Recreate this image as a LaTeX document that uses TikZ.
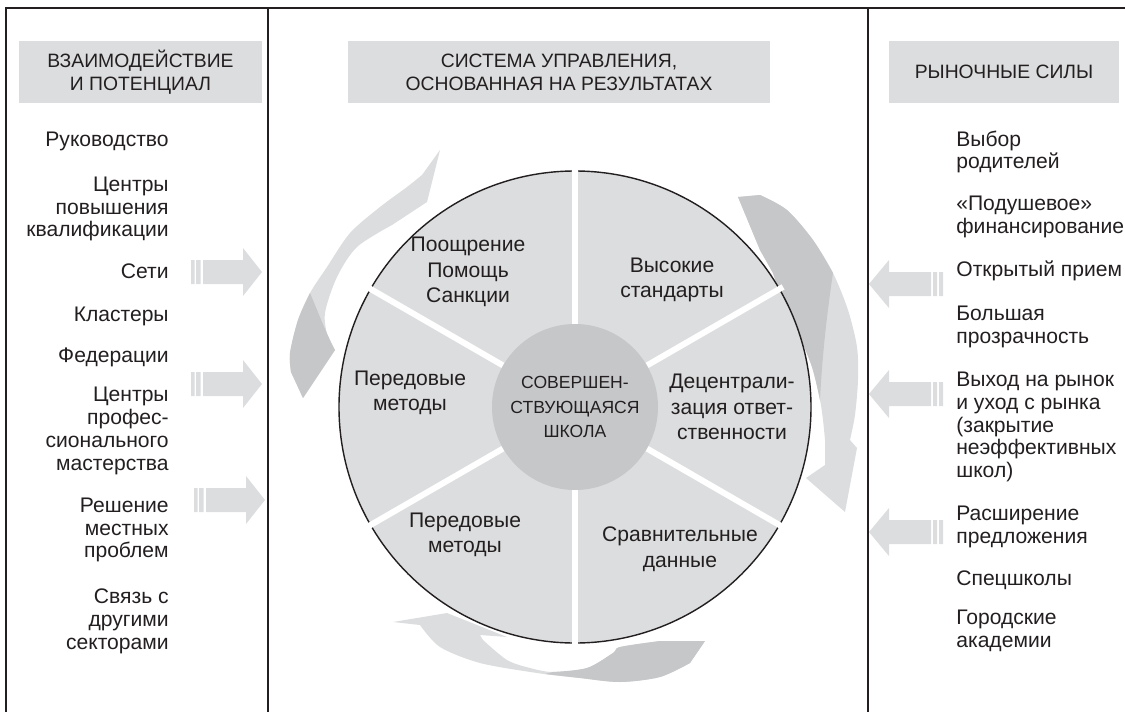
\documentclass[tikz,border=0pt]{standalone}
\usepackage{fontspec}
\setmainfont{Liberation Sans}
\definecolor{ink}{HTML}{231F20}
\definecolor{pale}{HTML}{DCDDDE}
\definecolor{mid}{HTML}{C6C7C9}

\begin{document}
\begin{tikzpicture}[x=0.2mm,y=-0.2mm,
  panel/.style={fill=pale,minimum height=12.4mm,inner sep=0,align=center,text=ink,font=\fontsize{11}{13}\selectfont},
  lft/.style={anchor=east,align=right,inner sep=0,text=ink,font=\fontsize{12}{13}\selectfont},
  rgt/.style={anchor=west,align=left,inner sep=0,text=ink,font=\fontsize{12}{13}\selectfont},
  sector/.style={align=center,inner sep=0,text=ink,font=\fontsize{12}{14.5}\selectfont},
  gap/.style={white,line width=3.4pt,shorten >=-2pt}]
\useasboundingbox (0,0) rectangle (1125,712);

% frame and column rules
\draw[ink,line width=1.1pt] (6,712) -- (6,8) -- (1125,8);
\draw[ink,line width=1.1pt] (268,8) -- (268,712);
\draw[ink,line width=1.1pt] (868,8) -- (868,712);

% headings
\node[panel,minimum width=48.6mm] (h1) at (140.5,72) {ВЗАИМОДЕЙСТВИЕ\\И ПОТЕНЦИАЛ};
\node[panel,minimum width=84.4mm] (h2) at (559,72) {СИСТЕМА УПРАВЛЕНИЯ,\\ОСНОВАННАЯ НА РЕЗУЛЬТАТАХ};
\node[panel,minimum width=46mm] (h3) at (1004,72) {РЫНОЧНЫЕ СИЛЫ};

% left column
\node[lft] (l1) at (169,141) {Руководство};
\node[lft] (l2) at (169,209) {Центры\\повышения\\квалификации};
\node[lft] (l3) at (169,271) {Сети};
\node[lft] (l4) at (169,316) {Кластеры};
\node[lft] (l5) at (169,357) {Федерации};
\node[lft] (l6) at (169,431) {Центры\\профес-\\сионального\\мастерства};
\node[lft] (l7) at (169,530) {Решение\\местных\\проблем};
\node[lft] (l8) at (169,621) {Связь с\\другими\\секторами};

% right column
\node[rgt] (r1) at (956,152) {Выбор\\родителей};
\node[rgt] (r2) at (956,217) {«Подушевое»\\финансирование};
\node[rgt] (r3) at (956,271) {Открытый прием};
\node[rgt] (r4) at (956,327) {Большая\\прозрачность};
\node[rgt] (r5) at (956,427) {Выход на рынок\\и уход с рынка\\(закрытие\\неэффективных\\школ)};
\node[rgt] (r6) at (956,527) {Расширение\\предложения};
\node[rgt] (r7) at (956,580) {Спецшколы};
\node[rgt] (r8) at (956,631) {Городские\\академии};

% flat arrows pointing into the middle column
\fill[pale,shift={(262,272)}] (-71,-12) rectangle (-67.5,12) (-66,-12) rectangle (-61.5,12)
  (-59,-12) -- (-19,-12) -- (-19,-24) -- (0,0) -- (-19,24) -- (-19,12) -- (-59,12) -- cycle;
\fill[pale,shift={(262,384)}] (-71,-12) rectangle (-67.5,12) (-66,-12) rectangle (-61.5,12)
  (-59,-12) -- (-19,-12) -- (-19,-24) -- (0,0) -- (-19,24) -- (-19,12) -- (-59,12) -- cycle;
\fill[pale,shift={(265,500)}] (-71,-12) rectangle (-67.5,12) (-66,-12) rectangle (-61.5,12)
  (-59,-12) -- (-19,-12) -- (-19,-24) -- (0,0) -- (-19,24) -- (-19,12) -- (-59,12) -- cycle;
\fill[pale,shift={(869,284)},xscale=-1] (-74,-12) rectangle (-70,12) (-68,-12) rectangle (-64,12)
  (-62,-12) -- (-20,-12) -- (-20,-24) -- (0,0) -- (-20,24) -- (-20,12) -- (-62,12) -- cycle;
\fill[pale,shift={(869,394)},xscale=-1] (-74,-12) rectangle (-70,12) (-68,-12) rectangle (-64,12)
  (-62,-12) -- (-20,-12) -- (-20,-24) -- (0,0) -- (-20,24) -- (-20,12) -- (-62,12) -- cycle;
\fill[pale,shift={(869,532)},xscale=-1] (-74,-12) rectangle (-70,12) (-68,-12) rectangle (-64,12)
  (-62,-12) -- (-20,-12) -- (-20,-24) -- (0,0) -- (-20,24) -- (-20,12) -- (-62,12) -- cycle;

% swirl arrows around the wheel
\fill[pale] (303,398) -- plot[smooth] coordinates {(291,372) (290,353) (298,320) (310,293) (327,267) (350,233) (380,207) (407,187) (422,175)}
  -- (440,150) -- (427,202) -- plot[smooth] coordinates {(392,225) (357,247) (337,277) (325,313) (328,338) (335,350)} -- cycle;
\fill[mid] (303,398) -- plot[smooth] coordinates {(291,372) (290,353) (298,320) (310,293)}
  .. controls (318,312) and (327,335) .. (335,350) -- cycle;

\fill[pale] (738,197) -- plot[smooth] coordinates {(760,195) (787,210) (813,240) (833,273) (848,310) (857,347) (858,380) (855,415) (850,440)}
  -- (857,448) -- (845,512) -- (806,478) -- (825,465)
  -- plot[smooth] coordinates {(825,440) (823,420) (820,400) (812,367) (797,330) (780,293) (773,273)} -- (760,250) -- cycle;
\fill[mid] (738,197) -- plot[smooth] coordinates {(760,195) (787,210) (813,240) (833,273)}
  .. controls (826,320) and (822,360) .. (820,400)
  -- plot[smooth] coordinates {(820,400) (812,367) (797,330) (780,293) (773,273)} -- (760,250) -- cycle;

\fill[pale] (393,622) -- (447,613) -- (507,637) -- (480,635)
  -- plot[smooth] coordinates {(483,640) (507,660) (530,668) (553,672) (587,668) (613,653) (620,647) (660,641)}
  -- (705,641) -- plot[smooth] coordinates {(690,663) (660,677) (620,682) (580,678) (537,673) (480,663) (440,647) (420,625)} -- cycle;
\fill[mid] (553,672) -- plot[smooth] coordinates {(553,672) (587,668) (613,653) (620,647) (660,641)}
  -- (705,641) -- plot[smooth] coordinates {(690,663) (660,677) (620,682) (580,678) (545,674)} -- cycle;

% the wheel
\node[circle,draw=ink,line width=0.8pt,fill=pale,minimum size=94.4mm,inner sep=0] (disk) at (575,407) {};
\node[circle,fill=mid,minimum size=33.2mm,inner sep=0,align=center,text=ink,font=\fontsize{10}{14}\selectfont] (core) at (575,407) {СОВЕРШЕН-\\СТВУЮЩАЯСЯ\\ШКОЛА};
\draw[gap] (core.90) -- (disk.90);
\draw[gap] (core.30) -- (disk.30);
\draw[gap] (core.-30) -- (disk.-30);
\draw[gap] (core.-90) -- (disk.-90);
\draw[gap] (core.210) -- (disk.210);
\draw[gap] (core.150) -- (disk.150);

\node[sector] (s1) at (468,272) {Поощрение\\Помощь\\Санкции};
\node[sector] (s2) at (672,280) {Высокие\\стандарты};
\node[sector] (s3) at (732,407) {Децентрали-\\зация ответ-\\ственности};
\node[sector] (s4) at (680,549) {Сравнительные\\данные};
\node[sector] (s5) at (465,535) {Передовые\\методы};
\node[sector] (s6) at (410,393) {Передовые\\методы};
\end{tikzpicture}
\end{document}
